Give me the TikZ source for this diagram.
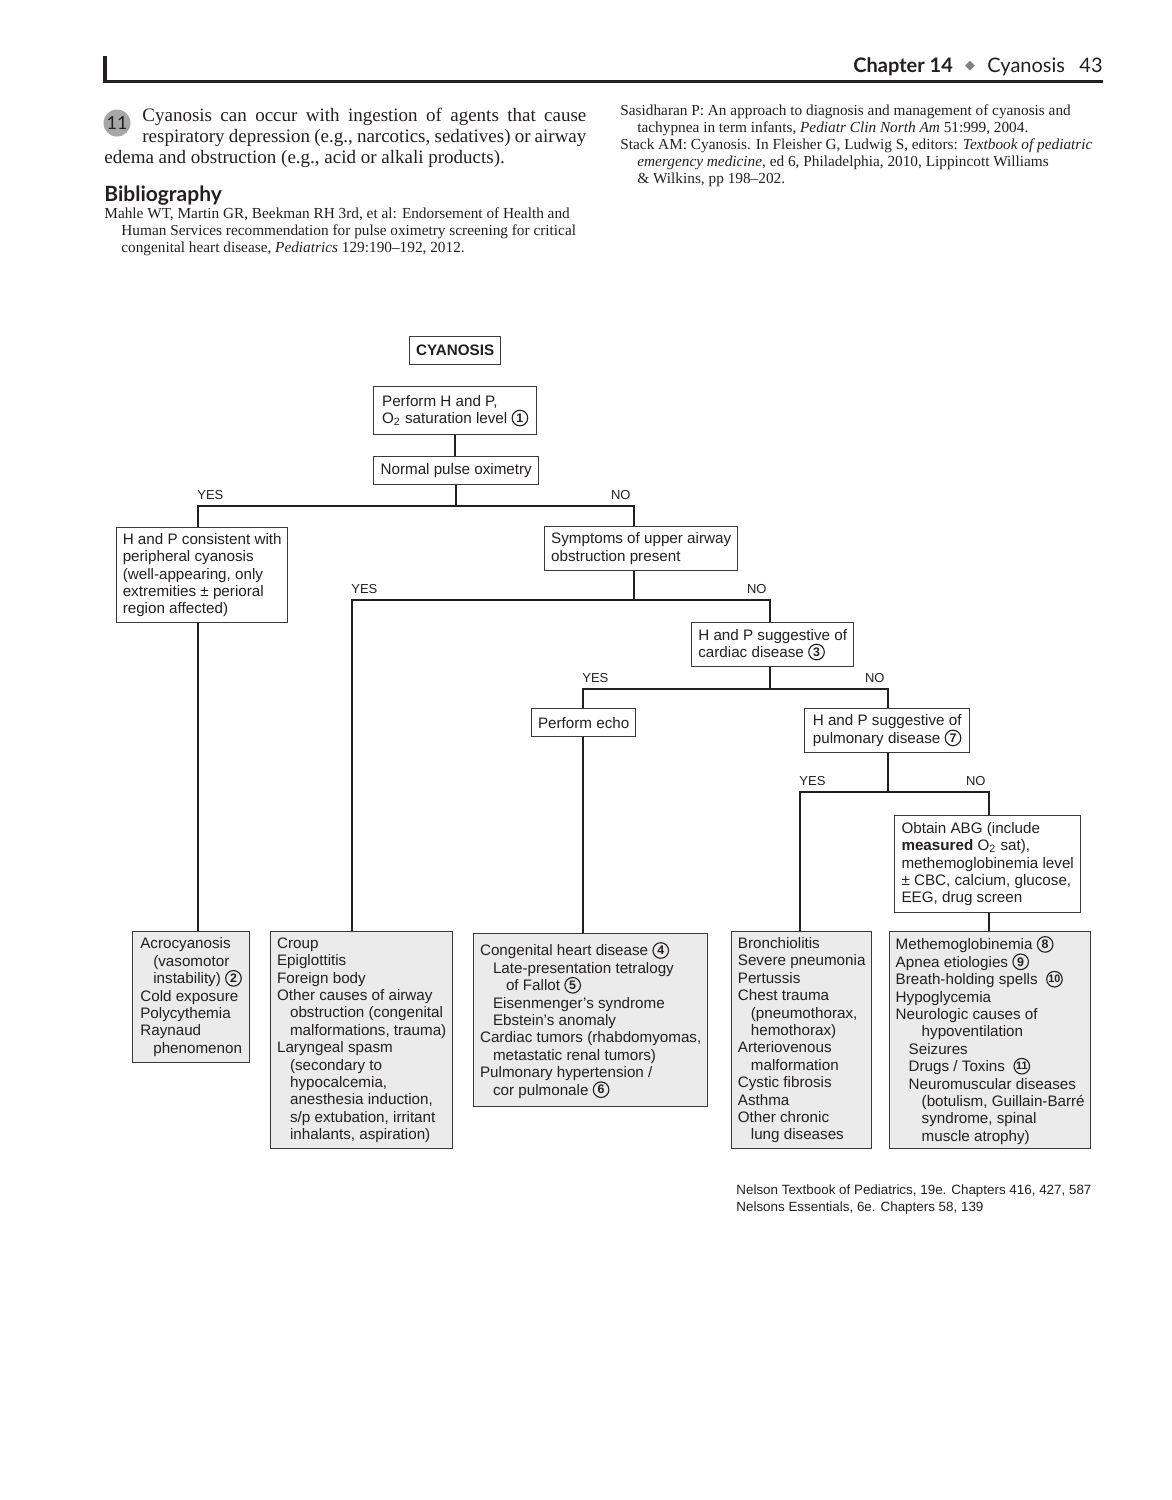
\documentclass[tikz,border=0pt]{standalone}
\usepackage{fontspec}
\setmainfont{Liberation Serif}
\newfontfamily\chartfont{Liberation Sans}
\newfontfamily\headfont{Lato}
\newfontfamily\symbfont{DejaVu Sans}
\usetikzlibrary{positioning}

\definecolor{boxline}{HTML}{3A3A3A}
\definecolor{boxgray}{HTML}{EBEBEB}
\definecolor{inkgray}{HTML}{231F20}

% circled note numbers
\newcommand{\cnum}[1]{\tikz[baseline=-2.7pt]{\draw[line width=0.55pt, draw=inkgray, fill=none] (0,0) circle (3.9pt);
  \node[draw=none, fill=none, inner sep=0pt, anchor=center, minimum width=0pt, minimum height=0pt,
    font=\chartfont\bfseries\fontsize{6.2}{6.2}\selectfont] at (0,0) {#1};}}
\newcommand{\indone}{\hspace*{6.5pt}}
\newcommand{\indtwo}{\hspace*{13pt}}
\newcommand{\hind}{\hspace*{8.5pt}}

\begin{document}
\begin{tikzpicture}[x=0.5pt, y=-0.5pt,
  chart/.style={font=\chartfont\fontsize{7.6}{8.7}\selectfont, text=inkgray},
  box/.style={chart, draw=boxline, line width=0.7pt, anchor=north west, align=left, inner xsep=3pt, inner ysep=2pt},
  listbox/.style={box, fill=boxgray},
  yeslbl/.style={font=\chartfont\fontsize{6.5}{6.5}\selectfont, text=inkgray, inner sep=0pt, anchor=base west, xshift=-0.5pt, yshift=3.2pt},
  nolbl/.style={yeslbl, anchor=base east, xshift=-1pt},
  link/.style={line width=0.75pt, draw=inkgray},
  serif/.style={anchor=north west, inner sep=0pt, align=left, text=inkgray, font=\fontsize{7.65}{8.5}\selectfont}]
\useasboundingbox (0,0) rectangle (1172,1500);

% running head
\draw[line width=1.6pt, inkgray] (105,56) -- (105,81.5) -- (1103,81.5);
\node[anchor=base west, inner sep=0pt, text=inkgray, font=\headfont\bfseries\fontsize{10}{12}\selectfont] (chap) at (853,72) {Chapter 14};
\node[inner sep=0pt, text=gray, font=\symbfont\fontsize{6.5}{6.5}\selectfont] (dia) at (970,66) {◆};
\node[anchor=base west, inner sep=0pt, text=inkgray, font=\headfont\fontsize{10}{12}\selectfont] (sect) at (987,72) {Cyanosis};
\node[anchor=base east, inner sep=0pt, text=inkgray, font=\headfont\fontsize{10}{12}\selectfont] (page) at (1103,72) {43};

% note 11 and bibliography
\node[circle, fill=gray!70, inner sep=0pt, minimum size=13.5pt, text=inkgray, font=\headfont\fontsize{9}{9}\selectfont] (num11) at (117,123) {11};
\node[anchor=north west, inner sep=0pt, text width=241pt, align=justify, text=inkgray, font=\fontsize{9.5}{10.5}\selectfont] (intro) at (104,108)
  {\noindent\hangindent=19pt\hangafter=-2 Cyanosis can occur with ingestion of agents that cause\linebreak respiratory depression (e.g., narcotics, sedatives) or airway\linebreak edema and obstruction (e.g., acid or alkali products).\par};
\node[anchor=base west, inner sep=0pt, text=inkgray, font=\headfont\bfseries\fontsize{10.5}{12}\selectfont] (bibhead) at (104,201) {Bibliography};
\node[serif] (bib1) at (104,207) {Mahle WT, Martin GR, Beekman RH 3rd, et al: Endorsement of Health and\\
  \hind Human Services recommendation for pulse oximetry screening for critical\\
  \hind congenital heart disease, \textit{Pediatrics} 129:190–192, 2012.};
\node[serif] (bib2) at (620,104) {Sasidharan P: An approach to diagnosis and management of cyanosis and\\
  \hind tachypnea in term infants, \textit{Pediatr Clin North Am} 51:999, 2004.\\
  Stack AM: Cyanosis. In Fleisher G, Ludwig S, editors: \textit{Textbook of pediatric}\\
  \hind\textit{emergency medicine}, ed 6, Philadelphia, 2010, Lippincott Williams\\
  \hind\& Wilkins, pp 198–202.};

% decision boxes
\node[box, minimum width=45.5pt, minimum height=14pt] (cyanosis) at (409,336) {\bfseries CYANOSIS};
\node[box, minimum width=81.5pt, minimum height=24pt] (hpexam) at (373,386) {Perform H and P,\\ O\textsubscript{2} saturation level \cnum{1}};
\node[box, minimum width=82.5pt, minimum height=14pt] (oximetry) at (373,456) {Normal pulse oximetry};
\node[box, minimum width=85.5pt, minimum height=47.5pt] (peripheral) at (116,527) {H and P consistent with\\ peripheral cyanosis\\ (well-appearing, only\\ extremities ± perioral\\ region affected)};
\node[box, minimum width=96.5pt, minimum height=22pt] (airway) at (544,526) {Symptoms of upper airway\\ obstruction present};
\node[box, minimum width=81pt, minimum height=22pt] (cardiac) at (691,622) {H and P suggestive of\\ cardiac disease \cnum{3}};
\node[box, minimum width=52pt, minimum height=14pt] (echo) at (531,708) {Perform echo};
\node[box, minimum width=82.5pt, minimum height=22pt] (pulmonary) at (804,708) {H and P suggestive of\\ pulmonary disease \cnum{7}};
\node[box, minimum width=93pt, minimum height=48.5pt] (abg) at (894,815) {Obtain ABG (include\\ \textbf{measured} O\textsubscript{2} sat),\\ methemoglobinemia level\\ ± CBC, calcium, glucose,\\ EEG, drug screen};

% end lists
\node[listbox, minimum width=58.5pt, minimum height=65.5pt] (acro) at (132,931) {Acrocyanosis\\ \indone(vasomotor\\ \indone instability) \cnum{2}\\ Cold exposure\\ Polycythemia\\ Raynaud\\ \indone phenomenon};
\node[listbox, minimum width=91pt, minimum height=108.5pt] (upperlist) at (270,931) {Croup\\ Epiglottitis\\ Foreign body\\ Other causes of airway\\ \indone obstruction (congenital\\ \indone malformations, trauma)\\ Laryngeal spasm\\ \indone(secondary to\\ \indone hypocalcemia,\\ \indone anesthesia induction,\\ \indone s/p extubation, irritant\\ \indone inhalants, aspiration)};
\node[listbox, minimum width=117pt, minimum height=86.5pt] (cardlist) at (473,933) {Congenital heart disease \cnum{4}\\ \indone Late-presentation tetralogy\\ \indtwo of Fallot \cnum{5}\\ \indone Eisenmenger’s syndrome\\ \indone Ebstein’s anomaly\\ Cardiac tumors (rhabdomyomas,\\ \indone metastatic renal tumors)\\ Pulmonary hypertension /\\ \indone cor pulmonale \cnum{6}};
\node[listbox, minimum width=70pt, minimum height=108.5pt] (lunglist) at (731,931) {Bronchiolitis\\ Severe pneumonia\\ Pertussis\\ Chest trauma\\ \indone(pneumothorax,\\ \indone hemothorax)\\ Arteriovenous\\ \indone malformation\\ Cystic fibrosis\\ Asthma\\ Other chronic\\ \indone lung diseases};
\node[listbox, minimum width=100.5pt, minimum height=108.5pt] (otherlist) at (889,931) {Methemoglobinemia \cnum{8}\\ Apnea etiologies \cnum{9}\\ Breath-holding spells\ \ \cnum{\fontsize{5.4}{5.4}\selectfont 10}\\ Hypoglycemia\\ Neurologic causes of\\ \indtwo hypoventilation\\ \indone Seizures\\ \indone Drugs / Toxins\ \ \cnum{\fontsize{5.4}{5.4}\selectfont 11}\\ \indone Neuromuscular diseases\\ \indtwo(botulism, Guillain-Barré\\ \indtwo syndrome, spinal\\ \indtwo muscle atrophy)};

% branch points
\coordinate (yes1) at (198,506); \coordinate (no1) at (634,506);
\coordinate (yes2) at (352,600); \coordinate (no2) at (770,600);
\coordinate (yes3) at (583,689); \coordinate (no3) at (888,689);
\coordinate (yes4) at (800,792); \coordinate (no4) at (989,792);

% connectors
\draw[link] (hpexam.south) -- (hpexam.south |- oximetry.north);
\draw[link] (oximetry.south) -- (oximetry.south |- yes1);
\draw[link] (yes1 |- peripheral.north) -- (yes1) -- (no1) -- (no1 |- airway.north);
\draw[link] (yes1 |- peripheral.south) -- (yes1 |- acro.north);
\draw[link] (no1 |- airway.south) -- (no1 |- yes2);
\draw[link] (yes2 |- upperlist.north) -- (yes2) -- (no2) -- (no2 |- cardiac.north);
\draw[link] (no2 |- cardiac.south) -- (no2 |- yes3);
\draw[link] (yes3 |- echo.north) -- (yes3) -- (no3) -- (no3 |- pulmonary.north);
\draw[link] (yes3 |- echo.south) -- (yes3 |- cardlist.north);
\draw[link] (no3 |- pulmonary.south) -- (no3 |- yes4);
\draw[link] (yes4 |- lunglist.north) -- (yes4) -- (no4) -- (no4 |- abg.north);
\draw[link] (no4 |- abg.south) -- (no4 |- otherlist.north);

% branch labels
\node[yeslbl] (yes1lbl) at (yes1) {YES}; \node[nolbl] (no1lbl) at (no1) {NO};
\node[yeslbl] (yes2lbl) at (yes2) {YES}; \node[nolbl] (no2lbl) at (no2) {NO};
\node[yeslbl] (yes3lbl) at (yes3) {YES}; \node[nolbl] (no3lbl) at (no3) {NO};
\node[yeslbl] (yes4lbl) at (yes4) {YES}; \node[nolbl] (no4lbl) at (no4) {NO};

% sources
\node[chart, anchor=north west, inner sep=0pt, align=left, font=\chartfont\fontsize{6.7}{8.5}\selectfont] (sources) at (736,1184) {Nelson Textbook of Pediatrics, 19e. Chapters 416, 427, 587\\ Nelsons Essentials, 6e. Chapters 58, 139};
\end{tikzpicture}
\end{document}
